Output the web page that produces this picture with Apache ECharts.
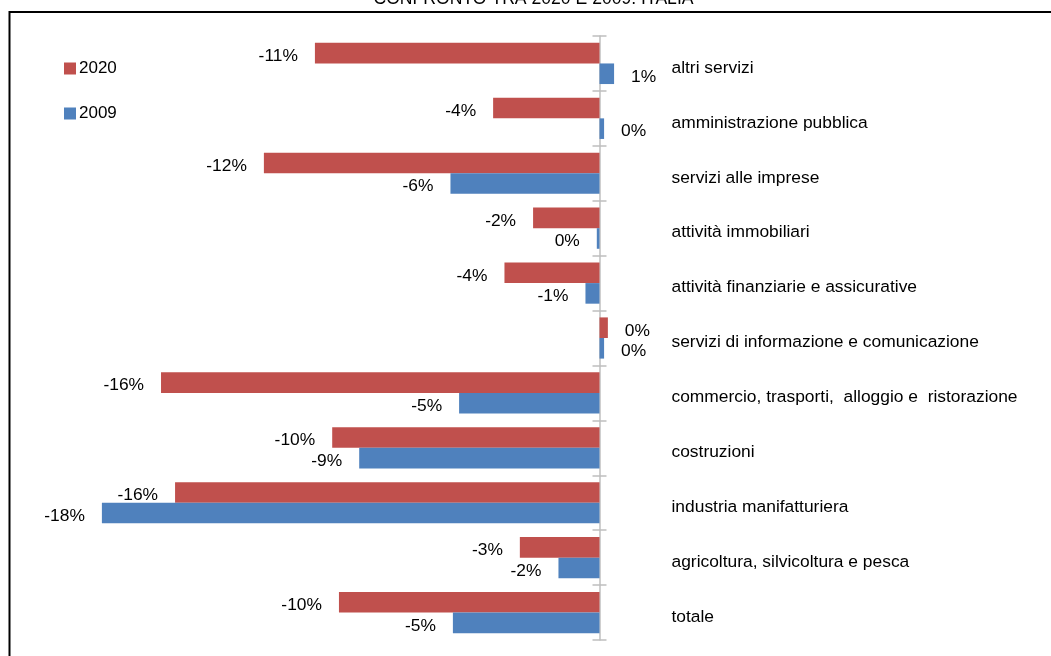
<!DOCTYPE html>
<html>
<head>
<meta charset="utf-8">
<script src="https://cdn.jsdelivr.net/npm/echarts@6/dist/echarts.min.js"></script>
<style>
  html, body { margin: 0; padding: 0; background: #fff; }
  #chart { width: 1051px; height: 656px; }
</style>
</head>
<body>
<div id="chart"></div>
<script>
// Sector categories, top to bottom
const categories = [
  'altri servizi',
  'amministrazione pubblica',
  'servizi alle imprese',
  'attività immobiliari',
  'attività finanziarie e assicurative',
  'servizi di informazione e comunicazione',
  'commercio, trasporti,  alloggio e  ristorazione',
  'costruzioni',
  'industria manifatturiera',
  'agricoltura, silvicoltura e pesca',
  'totale'
];

// Percentage change by sector (%)
const values2020 = [-10.54, -3.94, -12.43, -2.46, -3.52, 0.31, -16.24, -9.90, -15.72, -2.95, -9.65];
const values2009 = [0.54, 0.17, -5.52, -0.10, -0.52, 0.17, -5.20, -8.90, -18.43, -1.52, -5.43];

const seriesNames = ['2020', '2009'];
const titleText = 'CONFRONTO TRA 2020 E 2009. ITALIA';

const RED = '#C0504D';
const BLUE = '#4F81BD';
const AXIS_GREY = '#BFBFBF';
const FONT = '"Liberation Sans", Arial, sans-serif';

// x range of the value axis; the category axis sits on the zero line
const X_MIN = -20;
const X_MAX = 2;
const GRID_LEFT = 59.5;
const GRID_WIDTH = 594;
const zeroOffset = -GRID_WIDTH * (X_MAX / (X_MAX - X_MIN));

function pctLabel(p) {
  const v = p.value;
  const r = v < 0 ? -Math.round(-v) : Math.round(v);
  return (r === 0 ? 0 : r) + '%';
}

function toData(arr) {
  return arr.map(v => ({
    value: v,
    label: { position: v < 0 ? 'left' : 'right' }
  }));
}

const valueLabel = {
  show: true,
  distance: 17,
  offset: [0, 3],
  formatter: pctLabel,
  fontFamily: FONT,
  fontSize: 17.4,
  color: '#000'
};

const chart = echarts.init(document.getElementById('chart'), null, { renderer: 'canvas' });

chart.setOption({
  animation: false,
  backgroundColor: '#ffffff',
  textStyle: { fontFamily: FONT },
  graphic: [
    {
      type: 'polyline',
      silent: true,
      shape: { points: [[9.5, 700], [9.5, 12], [1100, 12]] },
      style: { stroke: '#000', lineWidth: 2, fill: null }
    },
    {
      type: 'text',
      silent: true,
      x: 533.5,
      y: 8,
      style: {
        text: titleText,
        fontFamily: FONT,
        fontSize: 17.6,
        fill: '#000',
        textAlign: 'center',
        textVerticalAlign: 'bottom'
      }
    }
  ],
  legend: {
    orient: 'vertical',
    left: 59,
    top: 55,
    itemWidth: 12,
    itemHeight: 12,
    itemGap: 28,
    icon: 'rect',
    textStyle: { fontFamily: FONT, fontSize: 17, color: '#000', padding: [0, 0, 0, -2] },
    data: seriesNames
  },
  grid: {
    left: GRID_LEFT,
    width: GRID_WIDTH,
    top: 36,
    bottom: 16,
    outerBoundsMode: 'none'
  },
  xAxis: {
    type: 'value',
    min: X_MIN,
    max: X_MAX,
    show: false
  },
  yAxis: [
    {
      type: 'category',
      data: categories,
      inverse: true,
      position: 'right',
      offset: zeroOffset,
      axisLine: { show: true, onZero: false, lineStyle: { color: AXIS_GREY, width: 1.5 } },
      axisTick: { show: true, length: 7, lineStyle: { color: AXIS_GREY, width: 1.5 } },
      axisLabel: {
        margin: 72,
        align: 'left',
        verticalAlign: 'top',
        lineHeight: 9,
        fontFamily: FONT,
        fontSize: 17.4,
        color: '#000'
      },
      splitLine: { show: false }
    },
    {
      type: 'category',
      data: categories,
      inverse: true,
      position: 'right',
      offset: zeroOffset,
      axisLine: { show: false, onZero: false },
      axisTick: { show: true, inside: true, length: 7, lineStyle: { color: AXIS_GREY, width: 1.5 } },
      axisLabel: { show: false },
      splitLine: { show: false }
    }
  ],
  series: [
    {
      name: seriesNames[0],
      type: 'bar',
      yAxisIndex: 0,
      data: toData(values2020),
      itemStyle: { color: RED },
      barGap: '0%',
      barCategoryGap: '25%',
      label: valueLabel
    },
    {
      name: seriesNames[1],
      type: 'bar',
      yAxisIndex: 0,
      data: toData(values2009),
      itemStyle: { color: BLUE },
      barGap: '0%',
      barCategoryGap: '25%',
      label: valueLabel
    }
  ]
});
</script>
</body>
</html>
